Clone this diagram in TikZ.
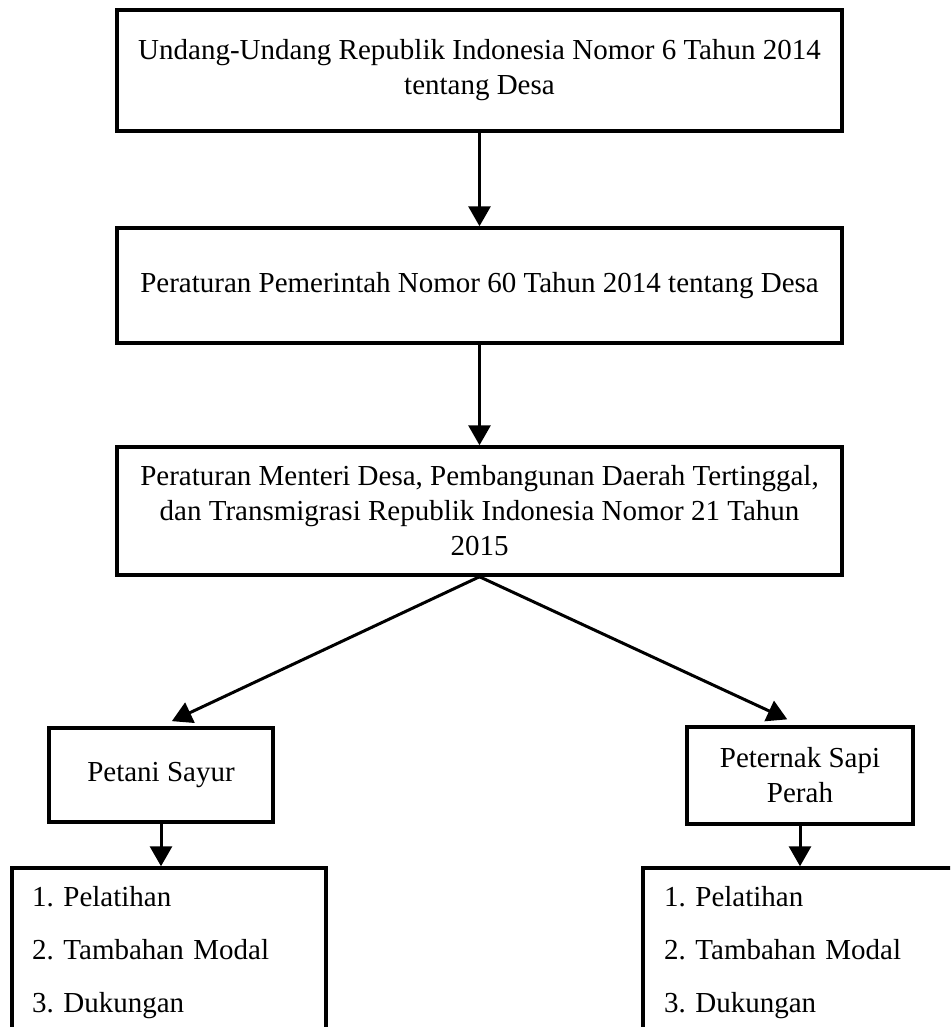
\documentclass[tikz,border=0pt]{standalone}
\usepackage{fontspec}
\setmainfont{Liberation Serif}
\usepackage{tikz}
\usetikzlibrary{arrows.meta}
\tikzset{
	kotak/.style={draw,line width=3.5pt,align=center,inner sep=0pt,font=\fontsize{29}{35}\selectfont}
}
\tikzset{
	daftar/.style={draw,line width=3.5pt,align=left,inner sep=0pt,text width=#1,font=\fontsize{29}{53}\selectfont}
}
\tikzset{
	panah/.style={line width=3pt,-{Triangle[length=20pt,width=22pt]}}
}

\begin{document}
\begin{tikzpicture}[x=1pt,y=-1pt]
	\useasboundingbox (0,0) rectangle (950,1027);
	\clip (0,0) rectangle (950,1027);
	%\node[kotak,minimum width=725pt,minimum height=121pt](uu) at (479.5,70.5) {};
	\node[kotak,minimum width=725pt,minimum height=121pt](uu) at (479.5,70.5) {Undang-Undang Republik Indonesia Nomor 6 Tahun 2014\\tentang Desa};
	\node[kotak,minimum width=725pt,minimum height=115pt](pp) at (479.5,285.5) {Peraturan Pemerintah Nomor 60 Tahun 2014 tentang Desa};
	\node[kotak,minimum width=725pt,minimum height=128pt](pm) at (479.5,511) {Peraturan Menteri Desa, Pembangunan Daerah Tertinggal,\\dan Transmigrasi Republik Indonesia Nomor 21 Tahun\\2015};
	\node[kotak,minimum width=224pt,minimum height=94pt](ps) at (161,775) {Petani Sayur};
	\node[kotak,minimum width=226pt,minimum height=97pt](pt) at (800,775.5) {Peternak Sapi\\Perah};
	\node[daftar=274pt,minimum width=314pt,minimum height=170pt](la) at (169,953) {1.\ Pelatihan\\2.\ Tambahan Modal\\3.\ Dukungan};
	\node[daftar=270pt,minimum width=312pt,minimum height=170pt](lb) at (799,953) {1.\ Pelatihan\\2.\ Tambahan Modal\\3.\ Dukungan};
	\draw[panah] (uu.south) -- (pp.north);
	\draw[panah] (pp.south) -- (pm.north);
	\draw[panah,shorten >=12pt] (pm.south) -- (ps.north);
	\draw[panah,shorten >=14pt] (pm.south) -- (pt.north);
	\draw[panah] (ps.south) -- (ps.south |- la.north);
	\draw[panah] (pt.south) -- (pt.south |- lb.north);
\end{tikzpicture}
\end{document}
